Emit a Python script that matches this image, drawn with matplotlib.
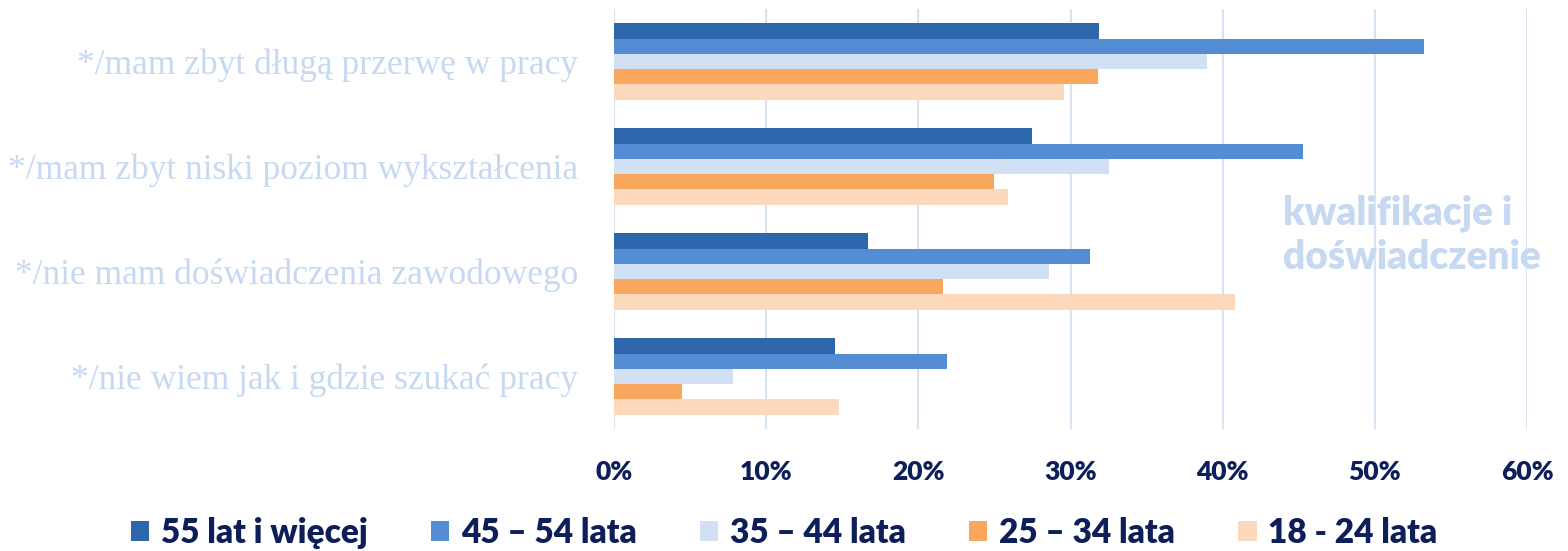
import matplotlib
matplotlib.use('Agg')
import matplotlib.pyplot as plt
import numpy as np
from matplotlib.ticker import FuncFormatter

categories = [
    '*/mam zbyt długą przerwę w pracy',
    '*/mam zbyt niski poziom wykształcenia',
    '*/nie mam doświadczenia zawodowego',
    '*/nie wiem jak i gdzie szukać pracy',
]
series_names = ['55 lat i więcej', '45 – 54 lata', '35 – 44 lata', '25 – 34 lata', '18 - 24 lata']
# values in %, one list per age group, same order as categories
age_55_plus = [31.9, 27.5, 16.7, 14.5]
age_45_54 = [53.2, 45.3, 31.3, 21.9]
age_35_44 = [39.0, 32.5, 28.6, 7.8]
age_25_34 = [31.8, 25.0, 21.6, 4.5]
age_18_24 = [29.6, 25.9, 40.8, 14.8]
series_values = [age_55_plus, age_45_54, age_35_44, age_25_34, age_18_24]
colors = ['#2E66AC', '#548DD4', '#D2E0F3', '#F9A75F', '#FCD8BC']
x_ticks = [0, 10, 20, 30, 40, 50, 60]

navy = '#0D1E5A'
light = '#C6D9F1'

fig = plt.figure(figsize=(15.68, 5.51), dpi=100)
ax = fig.add_axes([614 / 1568, 1 - 429 / 551, (1527 - 614) / 1568, 420 / 551])

y = np.arange(len(categories))
h = 0.146
for i, (name, vals) in enumerate(zip(series_names, series_values)):
    ax.barh(y + (i - 2) * h, vals, height=h, color=colors[i], label=name, zorder=3)

ax.set_xlim(0, 60)
ax.set_ylim(len(categories) - 0.5, -0.5)
ax.set_xticks(x_ticks)
ax.xaxis.set_major_formatter(FuncFormatter(lambda v, p: '%d%%' % v))
ax.set_yticks(y)
ax.set_yticklabels(categories, family='Liberation Serif', fontsize=25.5, color=light)
for lbl in ax.get_xticklabels():
    lbl.set_family('Lato')
    lbl.set_fontweight('heavy')
    lbl.set_fontsize(19)
    lbl.set_color(navy)
ax.tick_params(axis='x', length=0, pad=22)
ax.tick_params(axis='y', length=0, pad=26)
ax.grid(axis='x', color='#D9E4F3', linewidth=1.6, zorder=0)
for s in ax.spines.values():
    s.set_visible(False)

fig.text(1283 / 1568, 1 - 235 / 551, 'kwalifikacje i\ndoświadczenie', family='Lato',
         fontweight='heavy', fontsize=28, color=light, ha='left', va='center', linespacing=1.25)

leg = fig.legend(loc='center', bbox_to_anchor=(0.5, 1 - 533 / 551), ncol=5, frameon=False,
                 prop={'family': 'Lato', 'weight': 'heavy', 'size': 24},
                 handlelength=0.55, handleheight=0.55, handletextpad=0.35, columnspacing=1.9)
for t in leg.get_texts():
    t.set_color(navy)

fig.savefig('out.png', dpi=100)
